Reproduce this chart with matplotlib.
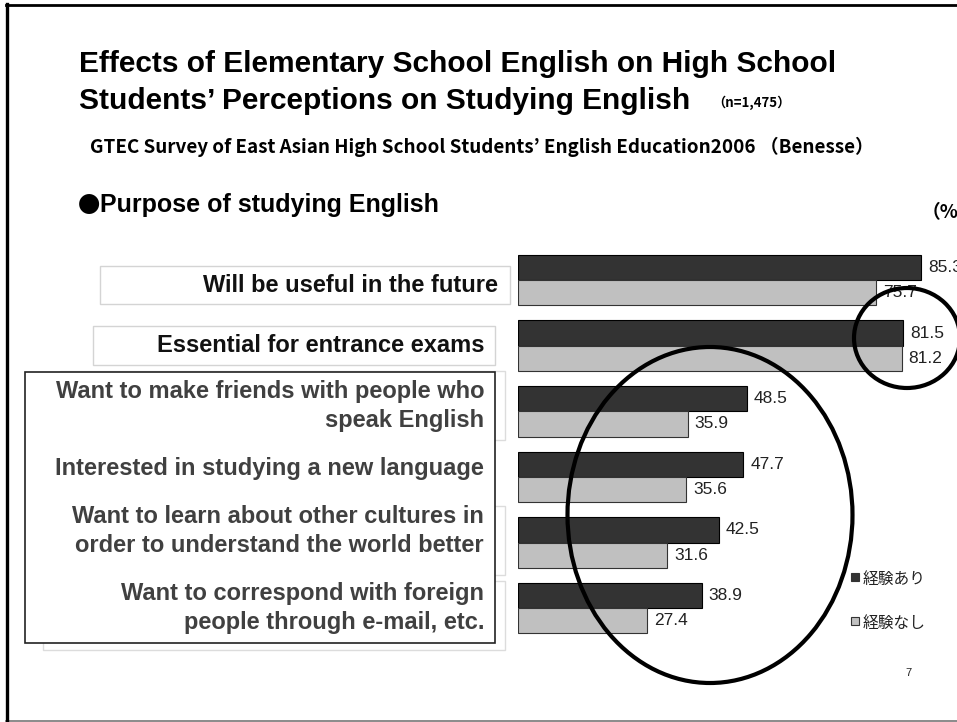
import matplotlib
matplotlib.use('Agg')
import matplotlib.pyplot as plt
from matplotlib.patches import Rectangle, Ellipse

# Survey results (%)
labels = [
    'Will be useful in the future',
    'Essential for entrance exams',
    'Want to make friends with people who\nspeak English',
    'Interested in studying a new language',
    'Want to learn about other cultures in\norder to understand the world better',
    'Want to correspond with foreign\npeople through e-mail, etc.',
]
with_exp = [85.3, 81.5, 48.5, 47.7, 42.5, 38.9]
without_exp = [75.7, 81.2, 35.9, 35.6, 31.6, 27.4]
series_names = ['経験あり', '経験なし']

title_lines = ['Effects of Elementary School English on High School',
               'Students\u2019 Perceptions on Studying English']
sample_note = '（n=1,475）'
subtitle = 'GTEC Survey of East Asian High School Students\u2019 English Education2006 （Benesse）'
section = 'Purpose of studying English'

W, H = 957, 722
LATIN = ['Liberation Sans', 'DejaVu Sans']
CJK = ['Noto Sans CJK JP', 'DejaVu Sans']
DARK = '#333333'
LIGHT = '#c0c0c0'

fig = plt.figure(figsize=(W / 100, H / 100), dpi=100)


def fx(x):
    return x / W


def fy(y):
    return 1 - y / H


def box(x0, y0, x1, y1, ec, lw=1.0, z=1):
    r = Rectangle((fx(x0), fy(y1)), fx(x1) - fx(x0), fy(y0) - fy(y1),
                  transform=fig.transFigure, facecolor='white', edgecolor=ec,
                  linewidth=lw, zorder=z)
    fig.add_artist(r)


def hline(x0, x1, y, c, lw):
    fig.add_artist(plt.Line2D([fx(x0), fx(x1)], [fy(y), fy(y)],
                              transform=fig.transFigure, color=c, linewidth=lw))


# slide frame
hline(6, W, 5, 'black', 2)
hline(6, W, 720.5, '#777777', 1.2)
fig.add_artist(plt.Line2D([fx(7.5), fx(7.5)], [fy(4), fy(721)],
                          transform=fig.transFigure, color='black', linewidth=2.4))

# headings
fig.text(fx(79), fy(72), title_lines[0], family=LATIN, weight='bold',
         fontsize=21.5, va='baseline', ha='left')
fig.text(fx(79), fy(109), title_lines[1], family=LATIN, weight='bold',
         fontsize=21.5, va='baseline', ha='left')
fig.text(fx(712), fy(103), sample_note, family=CJK, weight='bold',
         fontsize=9.5, va='center', ha='left')
fig.text(fx(90), fy(147), subtitle, family=CJK, weight='bold', fontsize=13.55,
         va='center', ha='left')
fig.text(fx(78), fy(205), '●', family=CJK, fontsize=16, va='center', ha='left')
fig.text(fx(100), fy(205), section, family=LATIN, weight='bold', fontsize=18,
         va='center', ha='left')
fig.text(fx(922), fy(213), '（%）', family=CJK, weight='bold', fontsize=13.5,
         va='center', ha='left')

# category label boxes
box(100, 266, 510, 304, '#d4d4d4')
box(93, 326, 495, 365, '#d4d4d4')
box(60, 371, 505, 440, '#dcdcdc')
box(60, 506, 505, 575, '#dcdcdc')
box(43, 581, 505, 650, '#dcdcdc')
box(25, 372, 495, 643, '#222222', lw=1.2, z=1.5)

label_x = [498, 484, 484, 484, 484, 484]
label_y = [285, 346, 406, 469, 531, 608]
label_col = ['#111111', '#111111', '#404040', '#404040', '#404040', '#404040']
for text, x, y, c in zip(labels, label_x, label_y, label_col):
    fig.text(fx(x), fy(y), text, family=LATIN, weight='bold', fontsize=17,
             color=c, ha='right', va='center', multialignment='right',
             linespacing=1.28, zorder=3)

# bars
ax = fig.add_axes([fx(518), fy(660), fx(957) - fx(518), fy(240) - fy(660)])
ax.set_xlim(0, 439 / 4.725)
ax.set_ylim(5.79, -0.61)
ax.axis('off')

h = 0.385
pos = list(range(len(labels)))
ax.barh([p - h / 2 for p in pos], with_exp, height=h, color=DARK,
        edgecolor='black', linewidth=0.8, label=series_names[0])
ax.barh([p + h / 2 for p in pos], without_exp, height=h, color=LIGHT,
        edgecolor='#333333', linewidth=0.8, label=series_names[1])

for p, a, b in zip(pos, with_exp, without_exp):
    ax.annotate(f'{a:.1f}', (a, p - h / 2), xytext=(5, 0),
                textcoords='offset points', va='center', ha='left',
                family=LATIN, fontsize=12.5, color='#222222', annotation_clip=False)
    ax.annotate(f'{b:.1f}', (b, p + h / 2), xytext=(5, 0),
                textcoords='offset points', va='center', ha='left',
                family=LATIN, fontsize=12.5, color='#222222', annotation_clip=False)

# legend
for (y, c), name in zip([(577, DARK), (621, LIGHT)], series_names):
    r = Rectangle((fx(851), fy(y + 4)), fx(8), fy(0) - fy(8),
                  transform=fig.transFigure, facecolor=c, edgecolor='#333333',
                  linewidth=0.8, zorder=3)
    fig.add_artist(r)
    fig.text(fx(863), fy(y + 2), name, family=CJK, fontsize=11.3,
             va='center', ha='left', color='#222222')

fig.text(fx(905), fy(673), '7', family=LATIN, fontsize=8, va='center',
         ha='left', color='#222222')

# highlight circles
for cx, cy, w, hh in [(907, 338, 106, 100), (710, 515, 285, 336)]:
    e = Ellipse((fx(cx), fy(cy)), fx(w), fy(0) - fy(hh),
                transform=fig.transFigure, facecolor='none',
                edgecolor='black', linewidth=3, zorder=5)
    fig.add_artist(e)

fig.savefig('out.png', dpi=100)
